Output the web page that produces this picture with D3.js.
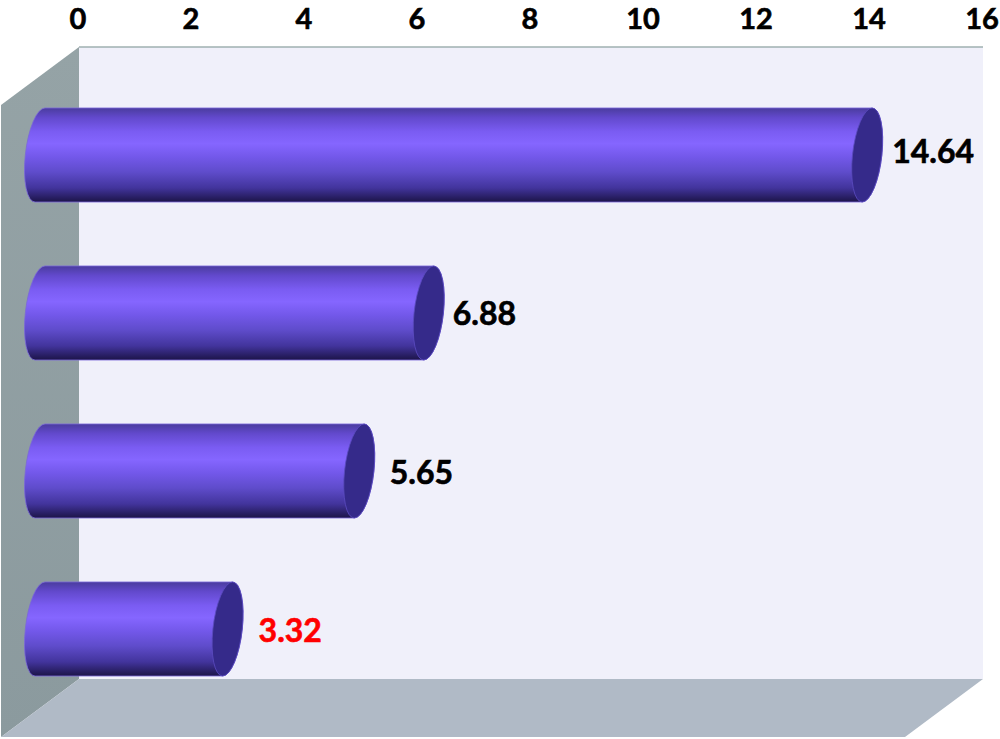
<!DOCTYPE html>
<html>
<head>
<meta charset="utf-8">
<script src="https://cdn.jsdelivr.net/npm/d3@7"></script>
<style>
    html, body { margin: 0; padding: 0; background: #fff; }
    svg { display: block; }
    text { font-family: Lato, sans-serif; font-weight: 700; }
</style>
</head>
<body>
<svg id="chart" width="1000" height="739"></svg>
<script>
const values = [14.64, 6.88, 5.65, 3.32]
const valueLabels = ['14.64', '6.88', '5.65', '3.32']
const xTicks = [0, 2, 4, 6, 8, 10, 12, 14, 16]

const wallLeft = 79
const wallRight = 983
const wallTop = 47
const wallBottom = 679
const depthX = 78
const depthY = 58
const rx = 14.7
const skew = -6

// hand nudges for the value labels, relative to the end of the bar
const labelDx = [9.5, 8.5, 15, 15.5]
const labelDy = [-3, 1, 2, 2]

const svg = d3.select('#chart')

const x = d3.scaleLinear().domain([0, 16]).range([wallLeft, wallRight])
const y = d3
    .scaleBand()
    .domain(values.map((d, i) => i))
    .range([wallTop + depthY / 2, wallBottom + depthY / 2])
    .paddingInner(0.405)
    .paddingOuter(0.2025)

const defs = svg.append('defs')
const barGrad = defs
    .append('linearGradient')
    .attr('id', 'barGrad')
    .attr('x1', 0)
    .attr('y1', 0)
    .attr('x2', 0)
    .attr('y2', 1)
barGrad
    .selectAll('stop')
    .data([
        [0, '#4a3c9e'],
        [0.1, '#6249cc'],
        [0.25, '#7a5cf2'],
        [0.38, '#8566ff'],
        [0.52, '#7358ea'],
        [0.68, '#5f4ccb'],
        [0.85, '#42349c'],
        [1, '#1c1448']
    ])
    .enter()
    .append('stop')
    .attr('offset', d => d[0])
    .attr('stop-color', d => d[1])

const wallGrad = defs
    .append('linearGradient')
    .attr('id', 'wallGrad')
    .attr('x1', 0)
    .attr('y1', 0)
    .attr('x2', 0)
    .attr('y2', 1)
wallGrad.append('stop').attr('offset', 0).attr('stop-color', '#95a3a6')
wallGrad.append('stop').attr('offset', 1).attr('stop-color', '#8b9a9e')

// walls
svg.append('rect')
    .attr('x', wallLeft)
    .attr('y', wallTop)
    .attr('width', wallRight - wallLeft)
    .attr('height', wallBottom - wallTop)
    .attr('fill', '#f0f0fa')
svg.append('line')
    .attr('x1', wallLeft)
    .attr('x2', wallRight)
    .attr('y1', wallTop)
    .attr('y2', wallTop)
    .attr('stroke', '#9fb0b0')
    .attr('stroke-width', 1.5)
svg.append('path')
    .attr(
        'd',
        d3.line()([
            [wallLeft, wallTop],
            [wallLeft, wallBottom],
            [wallLeft - depthX, wallBottom + depthY],
            [wallLeft - depthX, wallTop + depthY]
        ]) + 'Z'
    )
    .attr('fill', 'url(#wallGrad)')
svg.append('path')
    .attr(
        'd',
        d3.line()([
            [wallLeft, wallBottom],
            [wallRight, wallBottom],
            [wallRight - depthX, wallBottom + depthY],
            [wallLeft - depthX, wallBottom + depthY]
        ]) + 'Z'
    )
    .attr('fill', '#b0bac6')

// axis on top
const axis = svg
    .append('g')
    .attr('transform', 'translate(-1.5,29)')
    .call(d3.axisTop(x).tickValues(xTicks).tickSize(0).tickPadding(0))
axis.select('.domain').remove()
axis.selectAll('text')
    .attr('fill', '#000')
    .attr('stroke', '#000')
    .attr('stroke-width', 0.6)
    .style('font-size', '29px')
    .style('font-family', 'Lato, sans-serif')
    .style('font-weight', 700)

// bars, pushed forward half of the floor depth
const barX = v => x(v) - depthX / 2
const barMid = i => y(i) + y.bandwidth() / 2
const bars = svg
    .selectAll('g.bar')
    .data(values)
    .enter()
    .append('g')
    .attr('class', 'bar')
    .attr(
        'transform',
        (d, i) =>
            `translate(0,${barMid(i)}) skewX(${skew}) translate(0,${-barMid(i)})`
    )

bars.append('path')
    .attr('d', (d, i) => {
        const ry = y.bandwidth() / 2
        const top = y(i)
        const bottom = top + y.bandwidth()
        return `M${barX(0)},${top}L${barX(d)},${top}A${rx},${ry} 0 0 1 ${barX(d)},${bottom}L${barX(0)},${bottom}A${rx},${ry} 0 0 1 ${barX(0)},${top}Z`
    })
    .attr('fill', 'url(#barGrad)')
    .attr('stroke', '#7a68d8')
    .attr('stroke-width', 0.8)

bars.append('ellipse')
    .attr('cx', d => barX(d))
    .attr('cy', (d, i) => barMid(i))
    .attr('rx', rx)
    .attr('ry', y.bandwidth() / 2)
    .attr('fill', '#352a8a')
    .attr('stroke', '#5b4cc0')
    .attr('stroke-width', 0.8)

svg.selectAll('text.value')
    .data(values)
    .enter()
    .append('text')
    .attr('class', 'value')
    .attr('x', (d, i) => barX(d) + 15.5 + labelDx[i])
    .attr('y', (d, i) => barMid(i) + labelDy[i])
    .attr('dy', '0.35em')
    .attr('fill', (d, i) => (i === values.length - 1 ? '#ff0000' : '#000'))
    .attr('stroke', (d, i) => (i === values.length - 1 ? '#ff0000' : '#000'))
    .attr('stroke-width', 0.6)
    .style('font-size', '32px')
    .text((d, i) => valueLabels[i])
</script>
</body>
</html>
